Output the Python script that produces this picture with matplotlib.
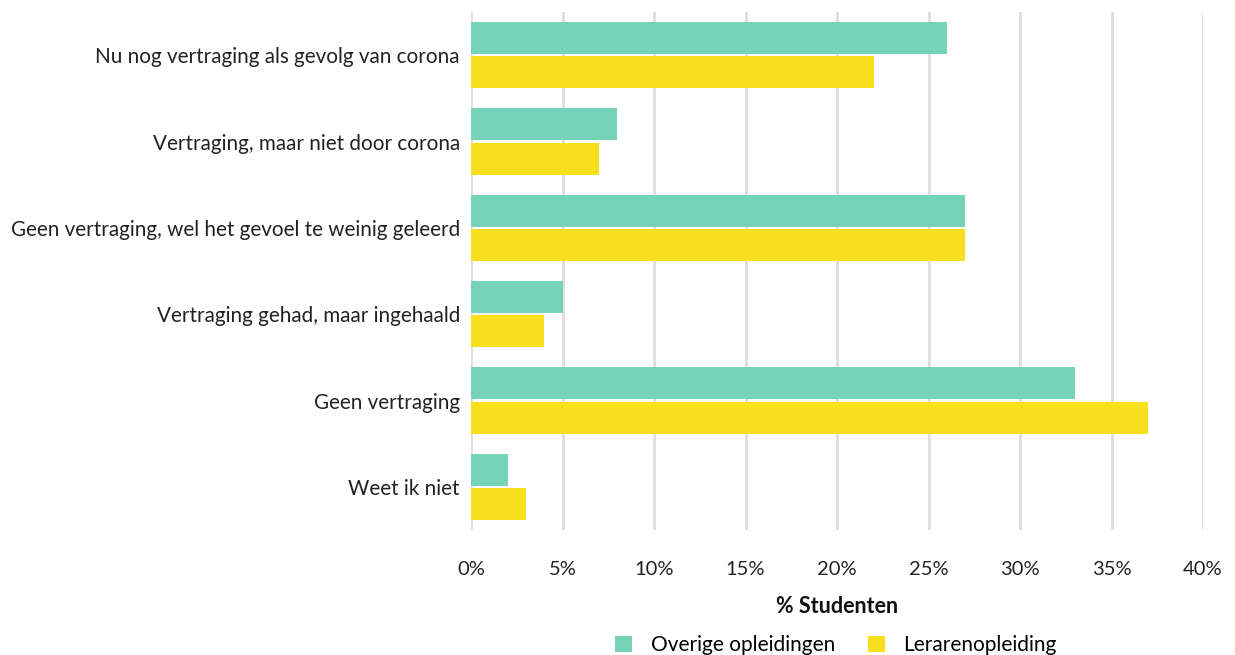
import matplotlib
matplotlib.use("Agg")
import matplotlib.pyplot as plt
import numpy as np

categories = [
    "Nu nog vertraging als gevolg van corona",
    "Vertraging, maar niet door corona",
    "Geen vertraging, wel het gevoel te weinig geleerd",
    "Vertraging gehad, maar ingehaald",
    "Geen vertraging",
    "Weet ik niet",
]
overige = [26, 8, 27, 5, 33, 2]
leraren = [22, 7, 27, 4, 37, 3]
series_names = ["Overige opleidingen", "Lerarenopleiding"]
xticks = [0, 5, 10, 15, 20, 25, 30, 35, 40]
xticklabels = [f"{v}%" for v in xticks]

plt.rcParams['font.family'] = ['Lato', 'DejaVu Sans']

fig = plt.figure(figsize=(12.35, 6.55), dpi=100)
ax = fig.add_axes([471/1235, 1-530/655, (1203-471)/1235, (530-12)/655])

y = np.arange(len(categories))
h = 0.37
c1 = "#76D3B8"
c2 = "#F8E01C"
ax.barh(y - 0.2, overige, height=h, color=c1, label=series_names[0], zorder=3)
ax.barh(y + 0.2, leraren, height=h, color=c2, label=series_names[1], zorder=3)

ax.set_xlim(0, 40)
ax.set_ylim(5.5, -0.5)
ax.set_xticks(xticks)
ax.set_xticklabels(xticklabels, fontsize=14.5, color="#222222")
ax.set_yticks(y)
ax.set_yticklabels(categories, fontsize=14.9, color="#222222")
ax.tick_params(axis='x', length=0, pad=22)
ax.tick_params(axis='y', length=0, pad=8)
ax.grid(axis='x', color="#dddddd", linewidth=2, zorder=0)
for s in ax.spines.values():
    s.set_visible(False)
ax.set_xlabel("% Studenten", fontsize=15.5, fontweight='bold', labelpad=13, color="#111111")

leg = fig.legend(loc='center', bbox_to_anchor=(836/1235, 1-645/655), ncol=2, frameon=False,
                 fontsize=15, handlelength=0.8, handleheight=0.8, columnspacing=1.6, handletextpad=0.9)

fig.savefig("out.png", dpi=100)
